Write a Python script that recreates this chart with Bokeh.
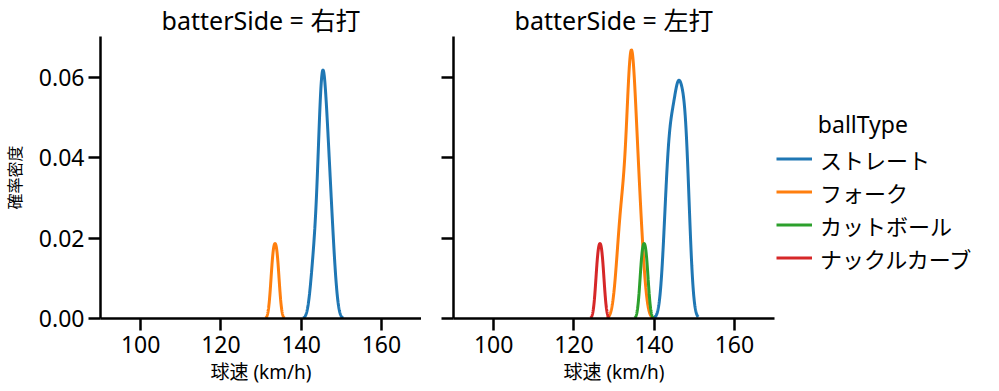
import numpy as np
from bokeh.plotting import figure
from bokeh.layouts import row
from bokeh.models import (Legend, LegendItem, Range1d, FixedTicker, NumeralTickFormatter,
                          CustomJSTickFormatter)
from bokeh.embed import file_html
from bokeh.resources import INLINE

# ---- data: pitch speeds (km/h) per batter side and ball type ----
sides = ["右打", "左打"]
ball_types = ["ストレート", "フォーク", "カットボール", "ナックルカーブ"]
colors = ["#1f77b4", "#ff7f0e", "#2ca02c", "#d62728"]

right_straight = [143, 144, 145, 145, 145, 145, 146, 146, 146, 147, 147, 148]
right_fork = [133, 134]
left_straight = [143, 143, 144, 144, 144, 145, 145, 146, 146, 146, 146, 147, 147, 148, 148, 148, 148]
left_fork = [131, 132, 132, 133, 134, 134, 134, 134, 134, 135, 135, 135, 136, 136, 137]
left_cut = [137, 138]
left_knuckle = [126, 127]

data = {
    "右打": {"ストレート": right_straight, "フォーク": right_fork},
    "左打": {"ストレート": left_straight, "フォーク": left_fork,
             "カットボール": left_cut, "ナックルカーブ": left_knuckle},
}

x_ticks = [100, 120, 140, 160]
y_ticks = [0.00, 0.02, 0.04, 0.06]

FONT = "'Noto Sans', 'Noto Sans CJK JP'"
total_n = sum(len(v) for s in data.values() for v in s.values())


def kde_curve(samples, gridsize=200, cut=3):
    a = np.asarray(samples, dtype=float)
    n = len(a)
    bw = n ** (-1.0 / 5.0) * a.std(ddof=1)
    grid = np.linspace(a.min() - cut * bw, a.max() + cut * bw, gridsize)
    dens = np.exp(-0.5 * ((grid[:, None] - a[None, :]) / bw) ** 2).sum(axis=1)
    dens /= n * bw * np.sqrt(2 * np.pi)
    dens *= n / total_n
    return grid, dens


curves = {s: {bt: kde_curve(v) for bt, v in d.items()} for s, d in data.items()}
ymax = max(c[1].max() for d in curves.values() for c in d.values()) * 1.05


def style(p, show_ylabels):
    p.outline_line_color = None
    p.xgrid.visible = False
    p.ygrid.visible = False
    p.title.text_font = FONT
    p.title.text_font_size = "25px"
    p.title.text_font_style = "normal"
    p.title.align = "center"
    p.title.text_color = "#000000"
    p.title.standoff = 0
    for ax in (p.xaxis[0], p.yaxis[0]):
        ax.axis_line_width = 2.5
        ax.axis_line_color = "#000000"
        ax.major_tick_line_width = 2.5
        ax.major_tick_line_color = "#000000"
        ax.major_tick_out = 12
        ax.major_tick_in = 0
        ax.minor_tick_out = 0
        ax.minor_tick_in = 0
        ax.major_label_text_font = FONT
        ax.major_label_text_font_size = "23px"
        ax.major_label_text_color = "#000000"
        ax.axis_label_text_font = FONT
        ax.axis_label_text_font_style = "normal"
        ax.axis_label_text_color = "#000000"
    p.xaxis[0].ticker = FixedTicker(ticks=x_ticks)
    p.yaxis[0].ticker = FixedTicker(ticks=y_ticks)
    p.xaxis[0].axis_label = "球速 (km/h)"
    p.xaxis[0].axis_label_text_font_size = "19px"
    p.xaxis[0].major_label_standoff = 5
    p.xaxis[0].axis_label_standoff = 3
    if show_ylabels:
        p.yaxis[0].formatter = NumeralTickFormatter(format="0.00")
        p.yaxis[0].axis_label = "確率密度"
        p.yaxis[0].axis_label_text_font_size = "16px"
        p.yaxis[0].major_label_standoff = 4
        p.yaxis[0].axis_label_standoff = 10
    else:
        p.yaxis[0].formatter = CustomJSTickFormatter(code="return '';")
        p.yaxis[0].major_label_standoff = 0


figs = []
for i, s in enumerate(sides):
    p = figure(
        frame_width=321, frame_height=282,
        x_range=Range1d(90, 170), y_range=Range1d(0, ymax),
        output_backend="svg", toolbar_location=None,
        title=f"batterSide = {s}",
        min_border_left=95 if i == 0 else 32,
        min_border_right=0 if i == 0 else 2,
        min_border_top=28, min_border_bottom=60,
    )
    style(p, i == 0)
    for bt, c in zip(ball_types, colors):
        if bt in curves[s]:
            gx, gy = curves[s][bt]
            p.line(gx, gy, line_color=c, line_width=3)
    figs.append(p)

# legend panel: same curves, drawn outside this panel's visible range,
# only used as legend glyph sources
pl = figure(width=210, height=375, output_backend="svg", toolbar_location=None,
            x_range=Range1d(0, 1), y_range=Range1d(0, 1),
            x_axis_location=None, y_axis_location=None, min_border=0)
pl.outline_line_color = None
pl.xgrid.visible = False
pl.ygrid.visible = False
legend_renderers = []
for bt, c in zip(ball_types, colors):
    gx, gy = curves["左打"][bt]
    legend_renderers.append(pl.line(gx, gy, line_color=c, line_width=3))
legend = Legend(
    items=[LegendItem(label=bt, renderers=[r]) for bt, r in zip(ball_types, legend_renderers)],
    title="\u00a0" * 7 + "ballType",
    location=(0, 32),
    label_text_font=FONT, label_text_font_size="22px", label_text_color="#000000",
    title_text_font=FONT, title_text_font_size="23px", title_text_font_style="normal",
    title_text_color="#000000", title_standoff=2,
    glyph_width=36, glyph_height=33, label_height=33, label_standoff=8,
    spacing=0, padding=0, margin=0,
    border_line_color=None, background_fill_alpha=0,
)
pl.add_layout(legend)
figs.append(pl)

layout = row(*figs)
open("out.html", "w").write(file_html(layout, INLINE))
